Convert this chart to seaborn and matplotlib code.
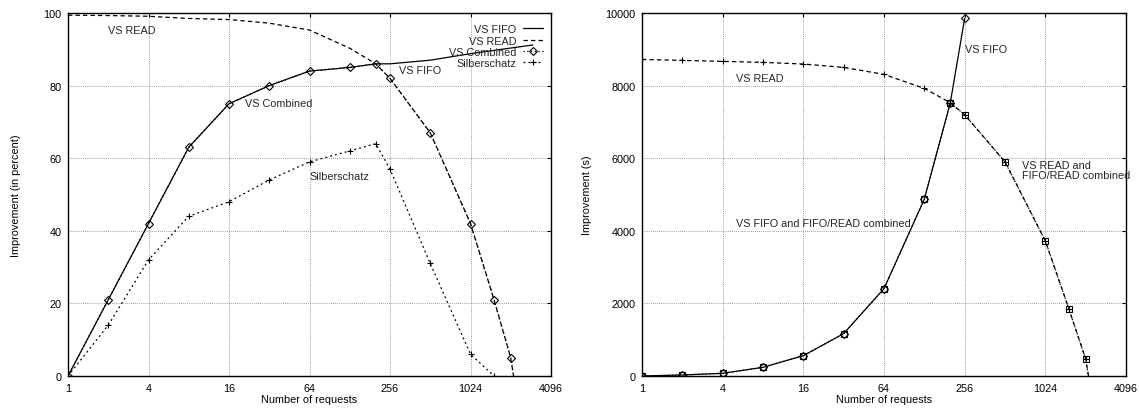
import matplotlib
matplotlib.use("Agg")
import numpy as np
import pandas as pd
import seaborn as sns
import matplotlib.pyplot as plt

# ---------------- data: left chart (percent) ----------------
fifo_left_x = [1, 2, 4, 8, 16, 32, 64, 128, 200, 256, 512, 1024, 3000]
fifo_left_y = [0, 21, 42, 63, 75, 80, 84, 85, 86, 86, 87, 88.8, 91.2]
read_left_x = [1, 2, 4, 8, 16, 32, 64, 128, 200, 256, 512, 1024, 1536, 2048, 2150]
read_left_y = [99.4, 99.3, 99.1, 98.5, 98.2, 97.2, 95.3, 90.3, 86, 82, 67, 42, 21, 5, 0]
comb_left_x = [1, 2, 4, 8, 16, 32, 64, 128, 200, 256, 512, 1024, 1536, 2048, 2150]
comb_left_y = [0, 21, 42, 63, 75, 80, 84, 85, 86, 82, 67, 42, 21, 5, 0]
silber_x = [1, 2, 4, 8, 16, 32, 64, 128, 200, 256, 512, 1024, 1536]
silber_y = [0, 14, 32, 44, 48, 54, 59, 62, 64, 57, 31, 6, 0]

# ---------------- data: right chart (seconds) ----------------
fifo_right_x = [1, 2, 4, 8, 16, 32, 64, 128, 200, 256]
fifo_right_y = [0, 28, 74, 239, 560, 1167, 2408, 4871, 7528, 9853]
read_right_x = [1, 2, 4, 8, 16, 32, 64, 128, 200, 256, 512, 1024, 1536, 2048, 2150]
read_right_y = [8720, 8695, 8667, 8640, 8594, 8502, 8309, 7923, 7528, 7197, 5901, 3722, 1847, 469, 0]
comb_right_x = [1, 2, 4, 8, 16, 32, 64, 128, 200, 256, 512, 1024, 1536, 2048, 2150]
comb_right_y = [0, 28, 74, 239, 560, 1167, 2408, 4871, 7528, 7197, 5901, 3722, 1847, 469, 0]

x_ticks = [1, 4, 16, 64, 256, 1024, 4096]
x_tick_labels = ["1", "4", "16", "64", "256", "1024", "4096"]
left_y_ticks = [0, 20, 40, 60, 80, 100]
right_y_ticks = [0, 2000, 4000, 6000, 8000, 10000]

sns.set_theme(style="white")
plt.rcParams["font.family"] = ["Liberation Sans", "DejaVu Sans"]
FS = 7.8

fig = plt.figure(figsize=(11.39, 4.10), dpi=100)
axL = fig.add_axes([68 / 1139, 33 / 410, 483 / 1139, 363 / 410])
axR = fig.add_axes([642 / 1139, 33 / 410, 484 / 1139, 363 / 410])

SOLID = "-"
DASHED = (0, (3.5, 2.5))
DOTTED = (0, (1, 2))
DOTDASH = (0, (1.5, 2.5))
K = "black"

def draw(ax, xs, ys, ls, label=None, marker=None, ms=4.5, n_mark=None):
    df = pd.DataFrame({"x": xs, "y": ys})
    kw = dict(color=K, linewidth=0.9, linestyle=ls)
    if marker is not None:
        kw.update(marker=marker, markersize=ms, markerfacecolor="none",
                  markeredgecolor=K, markeredgewidth=0.8)
        if n_mark is not None:
            kw["markevery"] = slice(0, n_mark)
    sns.lineplot(data=df, x="x", y="y", ax=ax, estimator=None, sort=False,
                 label=label, **kw)

# left chart
draw(axL, fifo_left_x, fifo_left_y, SOLID, label="VS FIFO")
draw(axL, read_left_x, read_left_y, DASHED, label="VS READ")
draw(axL, comb_left_x, comb_left_y, DOTTED, label="VS Combined", marker="D", ms=4, n_mark=14)
draw(axL, silber_x, silber_y, DOTDASH, label="Silberschatz", marker="+", ms=5)

# right chart
draw(axR, fifo_right_x, fifo_right_y, SOLID, marker="D", ms=4)
draw(axR, read_right_x, read_right_y, DASHED, marker="+", ms=5, n_mark=14)
draw(axR, comb_right_x, comb_right_y, DOTTED, marker="s", ms=5, n_mark=14)

for ax, yt, ylim, ylab, lp in [(axL, left_y_ticks, (0, 100), "Improvement (in percent)", 16),
                                (axR, right_y_ticks, (0, 10000), "Improvement (s)", 10)]:
    ax.set_xscale("log", base=2)
    ax.set_xlim(1, 4096)
    ax.set_ylim(*ylim)
    ax.set_xticks(x_ticks)
    ax.set_xticklabels(x_tick_labels)
    ax.xaxis.set_minor_locator(matplotlib.ticker.NullLocator())
    ax.set_yticks(yt)
    ax.set_yticklabels([str(v) for v in yt])
    ax.grid(True, which="major", color="#7a7a7a", linestyle=(0, (1, 1.5)), linewidth=0.6)
    ax.set_axisbelow(True)
    for s in ax.spines.values():
        s.set_color(K)
        s.set_linewidth(1.0)
        s.set_visible(True)
    ax.tick_params(axis="both", which="major", direction="in", length=3, width=0.8,
                   top=True, right=True, labelsize=FS, colors=K, pad=4.5)
    ax.tick_params(axis="x", pad=5)
    ax.set_xlabel("Number of requests", fontsize=FS, labelpad=1, color=K)
    ax.set_ylabel(ylab, fontsize=FS, labelpad=lp, color=K)

# legend (gnuplot style: label then sample)
leg = axL.legend(loc="upper right", bbox_to_anchor=(1, 0.99), frameon=False, markerfirst=False,
                 fontsize=FS, handlelength=1.9, handletextpad=0.6, labelspacing=0.12,
                 borderpad=0.0, borderaxespad=0.7, numpoints=1)

# annotations
axL.text(2, 95.3, "VS READ", fontsize=FS, va="center", ha="left")
axL.text(21, 75.2, "VS Combined", fontsize=FS, va="center", ha="left")
axL.text(64, 55.2, "Silberschatz", fontsize=FS, va="center", ha="left")
axL.text(300, 84.3, "VS FIFO", fontsize=FS, va="center", ha="left")

axR.text(2 ** 2.33, 8208, "VS READ", fontsize=FS, va="center", ha="left")
axR.text(256, 9007, "VS FIFO", fontsize=FS, va="center", ha="left")
axR.text(2 ** 9.43, 5667, "VS READ and\nFIFO/READ combined", fontsize=FS, va="center",
         ha="left", linespacing=1.0)
axR.text(2 ** 2.33, 4210, "VS FIFO and FIFO/READ combined", fontsize=FS, va="center", ha="left")

fig.savefig("out.png", dpi=100)
